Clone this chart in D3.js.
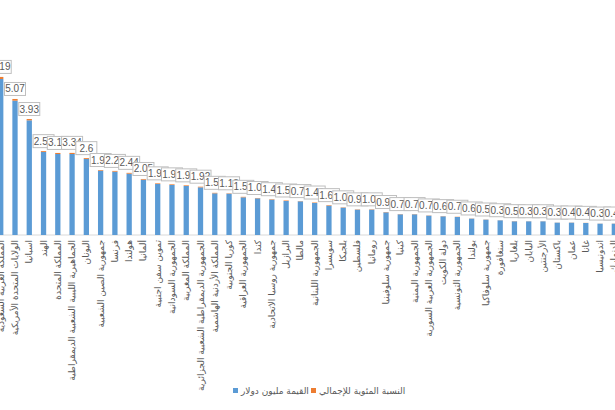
<!DOCTYPE html>
<html><head><meta charset="utf-8">
<script src="https://cdn.jsdelivr.net/npm/d3@7"></script>
<style>body{margin:0;background:#fff}svg{display:block}</style>
</head><body>
<svg id="c" width="615" height="410"></svg>
<script>
const categories = ["المملكة العربية السعودية","الولايات المتحدة الأمريكية","اسبانيا","الهند","المملكة المتحدة","الجماهيرية الليبية الشعبية الديمقراطية","اليونان","جمهورية الصين الشعبية","فرنسا","هولندا","ألمانيا","تموين سفن اجنبية","الجمهورية السودانية","المملكة المغربية","الجمهورية الديمقراطية الشعبية الجزائرية","المملكة الأردنية الهاشمية","كوريا الجنوبية","الجمهورية العراقية","كندا","جمهورية روسيا الاتحادية","البرازيل","مالطا","الجمهورية اللبنانية","سويسرا","بلجيكا","فلسطين","رومانيا","جمهورية سلوفينيا","كينيا","الجمهورية اليمنية","الجمهورية العربية السورية","دولة الكويت","الجمهورية التونسية","بولندا","جمهورية سلوفاكيا","سنغافورة","بلغاريا","اليابان","الأرجنتين","باكستان","عمان","غانا","اندونيسيا","الدنمارك"];
const valueMillion = [468,403,344,249,243,243,228,193,190,184,166,153,150,147,143,125,124,113,110,106,102,101,96,88,82,76,76,68,62,62,58,56,54,49,46,44,41,41,41,37,37,36,34,34];
const percentTotal = [6.19,5.07,3.93,2.55,3.15,3.34,2.6,1.95,2.25,2.44,2.05,1.93,1.93,1.93,1.92,1.53,1.13,1.53,1.03,1.43,1.53,0.73,1.43,1.63,1.03,0.93,1.03,0.93,0.73,0.73,0.73,0.63,0.73,0.63,0.53,0.33,0.53,0.33,0.33,0.33,0.43,0.43,0.33,0.43];
const seriesNames = ["القيمة مليون دولار","النسبة المئوية للإجمالي"];
const colors = ["#5b9bd5","#ed7d31"];

const svg = d3.select("#c");
const W = 615, H = 410;
svg.append("rect").attr("width",W).attr("height",H).attr("fill","#fff");

const step = 14.27;
const x = d3.scaleBand().domain(categories)
  .range([0.73 - step/2, 0.73 - step/2 + step*categories.length])
  .paddingInner(0.63).paddingOuter(0.315);
const y = d3.scaleLinear().domain([0,600]).range([235,35]);

// baseline
svg.append("line").attr("x1",0).attr("x2",W).attr("y1",y(0)).attr("y2",y(0))
  .attr("stroke","#d9d9d9").attr("stroke-width",1);

const data = categories.map((c,i)=>({c, v:valueMillion[i], p:percentTotal[i]}));

svg.append("g").selectAll("rect").data(data).join("rect")
  .attr("x",d=>x(d.c)).attr("width",x.bandwidth())
  .attr("y",d=>y(d.v)).attr("height",d=>y(0)-y(d.v))
  .attr("fill",colors[0]);
svg.append("g").selectAll("rect").data(data).join("rect")
  .attr("x",d=>x(d.c)).attr("width",x.bandwidth())
  .attr("y",d=>y(d.v+d.p)).attr("height",d=>y(d.v)-y(d.v+d.p))
  .attr("fill",colors[1]);

// data labels (boxes)
const lg = svg.append("g");
data.forEach(d=>{
  const cx = x(d.c) + x.bandwidth()/2;
  const top = y(d.v+d.p);
  const bw = 21, bh = 13;
  const g = lg.append("g");
  g.append("rect").attr("x",cx-bw/2).attr("y",top-3.5-bh).attr("width",bw).attr("height",bh)
    .attr("fill","#fff").attr("stroke","#bfbfbf").attr("stroke-width",1);
  g.append("text").attr("x",cx).attr("y",top-3.5-bh/2+3.5)
    .attr("text-anchor","middle").attr("font-family","Liberation Sans, Arial, sans-serif")
    .attr("font-size",10).attr("fill","#595959").text(String(d.p));
});

// category labels
svg.append("g").selectAll("text").data(data).join("text")
  .attr("transform",d=>`translate(${x(d.c)+x.bandwidth()/2+3},240) rotate(-90)`)
  .attr("text-anchor","end")
  .attr("font-family","DejaVu Sans, sans-serif").attr("font-size",9)
  .attr("fill","#595959").text(d=>d.c);

// legend
const leg = svg.append("g");
leg.append("rect").attr("x",233).attr("y",388).attr("width",5).attr("height",5).attr("fill",colors[0]);
leg.append("text").attr("x",241).attr("y",393.5).attr("font-family","DejaVu Sans, sans-serif")
  .attr("font-size",9).attr("fill","#595959").text(seriesNames[0]);
leg.append("rect").attr("x",311).attr("y",388).attr("width",5).attr("height",5).attr("fill",colors[1]);
leg.append("text").attr("x",319).attr("y",393.5).attr("font-family","DejaVu Sans, sans-serif")
  .attr("font-size",9).attr("fill","#595959").text(seriesNames[1]);
</script>
</body></html>
